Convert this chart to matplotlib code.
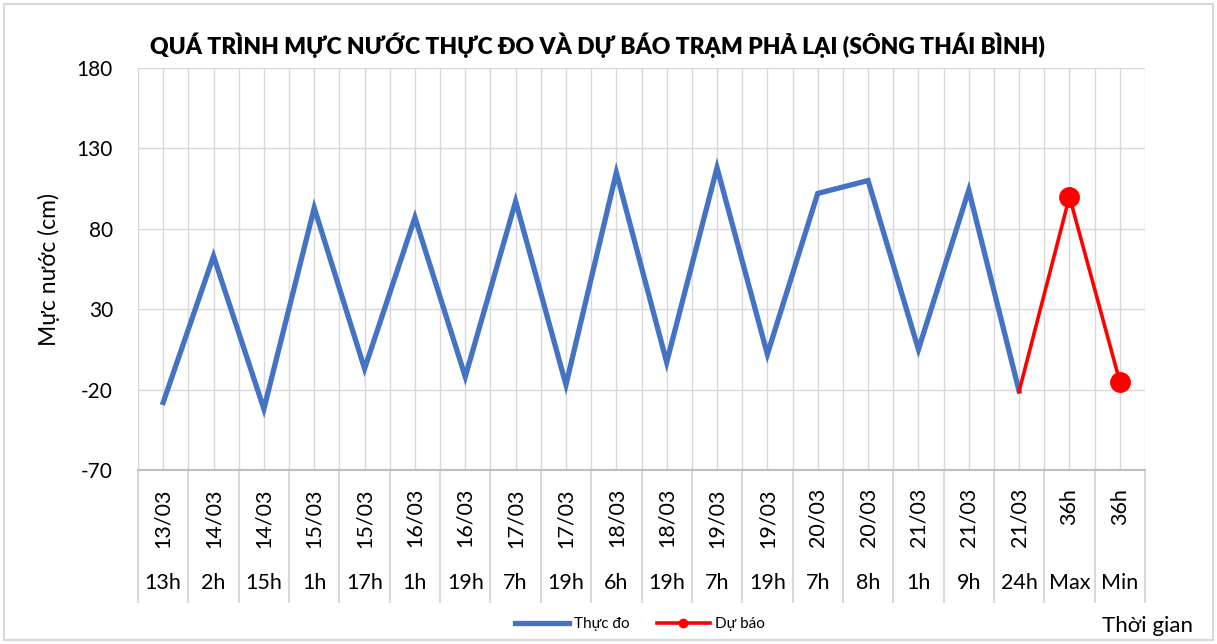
import numpy as np
import matplotlib
matplotlib.use("Agg")
import matplotlib.pyplot as plt
from matplotlib.lines import Line2D
from matplotlib.patches import Rectangle
import matplotlib.transforms as mtransforms

plt.rcParams["font.family"] = ["Lato", "Noto Sans", "DejaVu Sans"]
plt.rcParams["axes.unicode_minus"] = False

# Dữ liệu
ngay = ["13/03", "14/03", "14/03", "15/03", "15/03", "16/03", "16/03",
        "17/03", "17/03", "18/03", "18/03", "19/03", "19/03", "20/03",
        "20/03", "21/03", "21/03", "21/03", "36h", "36h"]
gio = ["13h", "2h", "15h", "1h", "17h", "1h", "19h", "7h", "19h", "6h",
       "19h", "7h", "19h", "7h", "8h", "1h", "9h", "24h", "Max", "Min"]
thuc_do = [-28, 63, -32, 93, -7, 87, -12, 97, -17, 115, -3, 118, 2,
           102, 110, 5, 104, -21]
du_bao = [-21, 100, -15]

XANH = "#4472C4"
DO = "#FF0000"
LUOI = "#D9D9D9"

fig = plt.figure(figsize=(12.17, 6.44), dpi=100)
ax = fig.add_axes([138 / 1217, 1 - 470 / 644, (1145 - 138) / 1217, (470 - 68) / 644])

n = len(ngay)
x = np.arange(n)
x_tb = x[:len(thuc_do)]
x_db = x[len(thuc_do) - 1:]

ax.plot(x_tb, thuc_do, color=XANH, lw=3.8, solid_joinstyle="miter", zorder=3)
ax.plot(x_db, du_bao, color=DO, lw=2.6, marker="o", markersize=14,
        markevery=[1, 2], zorder=4)

ax.set_xlim(-0.5, n - 0.5)
ax.set_ylim(-70, 180)
ax.set_yticks(np.arange(-70, 181, 50))
ax.set_xticks(x)
ax.set_xticks(np.arange(-0.5, n, 1.0), minor=True)
ax.set_xticklabels(ngay, rotation=90, fontsize=15.5)
ax.tick_params(axis="x", which="both", length=0, pad=13)
ax.tick_params(axis="y", length=0, pad=18, labelsize=15)

ax.grid(True, which="both", axis="x", color=LUOI, lw=1.0)
ax.grid(True, which="major", axis="y", color=LUOI, lw=1.0)
ax.set_axisbelow(True)
for s in ["top", "right", "left"]:
    ax.spines[s].set_visible(False)
ax.spines["bottom"].set_color("#BFBFBF")
ax.spines["bottom"].set_linewidth(1.5)

# Nhãn giờ và vạch phân cách dưới trục
trans = mtransforms.blended_transform_factory(ax.transData, ax.transAxes)
for i, g in enumerate(gio):
    ax.text(i, -0.281, g, transform=trans, ha="center", va="center",
            fontsize=15.5, clip_on=False)
for b in np.arange(-0.5, n, 1.0):
    ax.plot([b, b], [0, -0.328], transform=trans, color=LUOI, lw=1.5,
            clip_on=False)

ax.set_ylabel("Mực nước (cm)", fontsize=16.5, labelpad=12)

fig.text(597 / 1217, 1 - 45 / 644,
         "QUÁ TRÌNH MỰC NƯỚC THỰC ĐO VÀ DỰ BÁO TRẠM PHẢ LẠI (SÔNG THÁI BÌNH)",
         ha="center", va="center", fontsize=16.5, weight="heavy",
         fontfamily=["Lato", "DejaVu Sans"])

fig.text(1193 / 1217, 1 - 626 / 644, "Thời gian", ha="right", va="center",
         fontsize=16)

handles = [
    Line2D([], [], color=XANH, lw=3.8),
    Line2D([], [], color=DO, lw=2.6, marker="o", markersize=6),
]
fig.legend(handles, ["Thực đo", "Dự báo"], loc="center",
           bbox_to_anchor=(640 / 1217, 1 - 624 / 644), ncol=2, frameon=False,
           fontsize=11, handlelength=3.5, handletextpad=0.3,
           columnspacing=1.8)

fig.patches.append(Rectangle((0.003, 0.006), 0.994, 0.988,
                             transform=fig.transFigure, fill=False,
                             edgecolor=LUOI, lw=1.5))

fig.savefig("out.png", dpi=100, facecolor="white")
